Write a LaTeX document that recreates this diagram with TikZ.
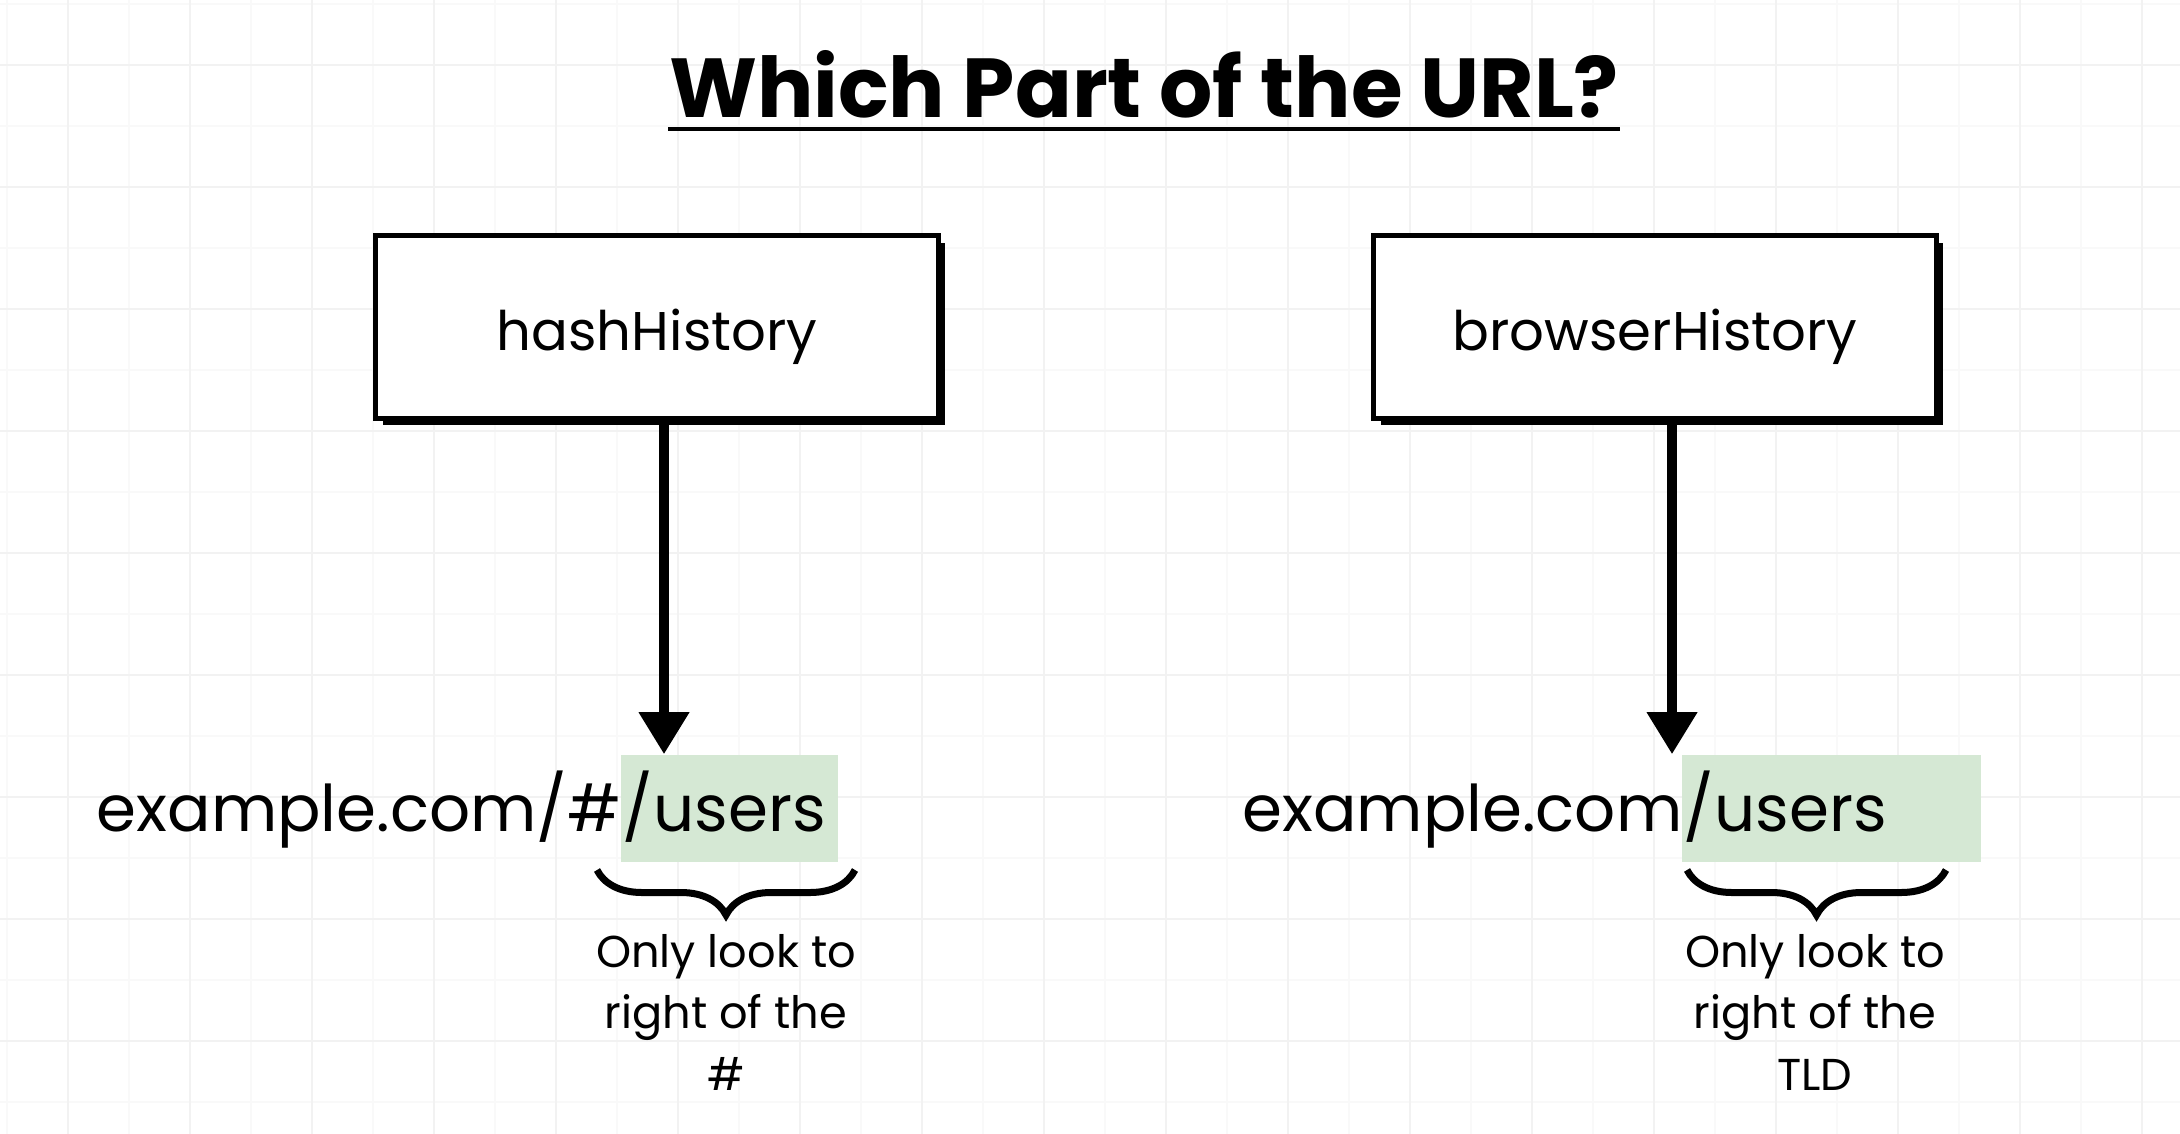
\documentclass[tikz,border=0pt]{standalone}
\usepackage{fontspec}
\setmainfont{Poppins}
\usetikzlibrary{arrows.meta, positioning, decorations.pathreplacing, shadows}

\definecolor{urlgreen}{HTML}{D5E8D4}

\begin{document}
\begin{tikzpicture}[
        x=0.01cm, y=-0.01cm,
        gridmajor/.style={draw=black!5, line width=0.02cm},
        gridminor/.style={draw=black!2.5, line width=0.02cm},
        histbox/.style={rectangle, draw=black, line width=0.05cm, fill=white, minimum width=5.62cm, minimum height=1.82cm, text height=0.47cm, text depth=0pt, font=\fontsize{15.5}{19}\selectfont, general shadow={fill=black, shadow xshift=0.07cm, shadow yshift=-0.07cm}},
        hilite/.style={rectangle, fill=urlgreen, inner sep=0pt, minimum height=1.07cm},
        urltext/.style={inner sep=0pt, font=\fontsize{18.3}{23}\selectfont},
        note/.style={align=center, inner sep=0pt, font=\fontsize{12.7}{17.4}\selectfont},
        pointer/.style={line width=0.1cm, -{Triangle[length=0.42cm, width=0.48cm]}},
        curly/.style={decorate, decoration={brace, mirror, amplitude=0.45cm}, line width=0.07cm}
    ]

    % Page and faint grid
    \path[use as bounding box, fill=white] (0,0) rectangle (2180,1134);
    \foreach \gx in {7,129,...,2180} \draw[gridminor] (\gx,0) -- (\gx,1134);
    \foreach \gy in {4,126,...,1134} \draw[gridminor] (0,\gy) -- (2180,\gy);
    \foreach \gx in {68,190,...,2180} \draw[gridmajor] (\gx,0) -- (\gx,1134);
    \foreach \gy in {65,187,...,1134} \draw[gridmajor] (0,\gy) -- (2180,\gy);

    % Title
    \node[inner sep=0pt, anchor=base, font=\fontsize{23.8}{28}\selectfont\bfseries] (title) at (1144,118) {Which Part of the URL?};
    \draw[line width=0.035cm] ([yshift=-0.11cm]title.base west) -- ([yshift=-0.11cm]title.base east);

    % History types
    \node[histbox] (hash) at (657,327) {hashHistory};
    \node[histbox] (browser) at (1655,327) {browserHistory};

    % Highlighted parts of the URL
    \node[hilite, minimum width=2.17cm] (hashpart) at (729.5,808.5) {};
    \node[hilite, minimum width=2.99cm] (tldpart) at (1831.5,808.5) {};

    % URLs
    \node[urltext, anchor=base east] (hashhost) at (622,831) {example.com/\#};
    \node[urltext, anchor=base west] (hashpath) at (hashhost.base east) {/users};
    \node[urltext, anchor=base east] (tldhost) at (1683,831) {example.com};
    \node[urltext, anchor=base west] (tldpath) at (tldhost.base east) {/users};

    % --- Arrows ---
    \draw[pointer] ([xshift=0.07cm]hash.south) -- ([xshift=0.07cm]hash.south |- hashpart.north);
    \draw[pointer] ([xshift=0.17cm]browser.south) -- ([xshift=0.17cm]browser.south |- tldpart.north);

    % Braces and notes
    \coordinate (hashl) at (597,870);
    \coordinate (hashr) at (855,870);
    \coordinate (tldl) at (1687,870);
    \coordinate (tldr) at (1946,870);
    \draw[curly] (hashl) -- (hashr);
    \draw[curly] (tldl) -- (tldr);

    \node[note, anchor=north] (hashnote) at (726,934) {Only look to\\right of the\\\#};
    \node[note, anchor=north] (tldnote) at (1815,934) {Only look to\\right of the\\TLD};

\end{tikzpicture}
\end{document}
